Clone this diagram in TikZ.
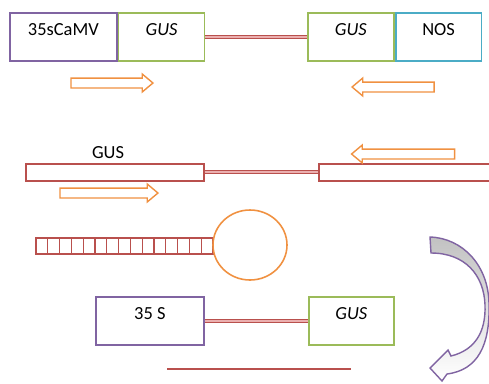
\documentclass[tikz,border=0pt]{standalone}
\usepackage{fontspec}
\setmainfont{Carlito}
\usepackage{tikz}
\usetikzlibrary{positioning}
\usetikzlibrary{shapes.arrows}
\definecolor{camvpurple}{RGB}{128,100,162}
\definecolor{gusgreen}{RGB}{155,187,89}
\definecolor{nosblue}{RGB}{75,172,198}
\definecolor{arroworange}{RGB}{240,145,65}
\definecolor{dnared}{RGB}{185,80,77}
\definecolor{dnapink}{RGB}{235,175,175}

\begin{document}
\begin{tikzpicture}[x=0.02cm,y=-0.02cm,
        every node/.style={font=\fontsize{10.5}{12}\selectfont},
        genebox/.style={draw, line width=1pt, fill=white, minimum height=0.96cm,
            inner xsep=0pt, inner ysep=0.25cm, text height=0.2cm, text depth=0.26cm,
            anchor=north west},
        strand/.style={draw=dnared, line width=0.9pt, fill=white, minimum height=0.34cm,
            inner sep=0pt, anchor=north west},
        dnalink/.style={draw=dnared, line width=0.6pt, double=dnapink, double distance=1.2pt},
        blockarrow/.style={single arrow, draw=arroworange, line width=0.8pt, fill=white,
            inner xsep=0pt, inner ysep=0.085cm, single arrow head extend=0.08cm,
            single arrow tip angle=80},
        on grid]
    \useasboundingbox (0,0) rectangle (489,383);
    \node[genebox, draw=camvpurple, minimum width=2.14cm] (camv) at (9,12) {35sCaMV};
    \node[genebox, draw=gusgreen, minimum width=1.72cm, right=0pt of camv.north east,
        anchor=north west] (gusA) {\textit{GUS}};
    \node[genebox, draw=gusgreen, minimum width=1.72cm] (gusB) at (307,12) {\textit{GUS}};
    \node[genebox, draw=nosblue, minimum width=1.72cm, right=0pt of gusB.north east,
        anchor=north west] (nos) {NOS};
    \draw[dnalink] (gusA.east) -- (gusB.west);
    \node[blockarrow, minimum height=1.64cm] (fwdA) at (109,83) {};
    \node[blockarrow, minimum height=1.64cm, shape border rotate=180] (revA) at (396,87) {};

    \node (gustag) at (108,153) {GUS};
    \node[strand, minimum width=3.56cm] (senseL) at (25,163) {};
    \node[strand, minimum width=3.6cm] (senseR) at (318,163) {};
    \draw[dnalink] (senseL.east) -- (senseR.west);
    \node[blockarrow, minimum height=1.96cm] (fwdB) at (106,193) {};
    \node[blockarrow, minimum height=2.06cm, shape border rotate=180] (revB) at (406,154) {};

    \draw[dnared, line width=0.9pt] (36,238) rectangle (213,254);
    \foreach \i in {1,...,14}
        \draw[dnared, line width=0.6pt] ({36+\i*11.8},238) -- ++(0,16);
    \draw[arroworange, line width=0.9pt] (250,245) ellipse [x radius=37, y radius=35];

    \draw[camvpurple, line width=0.8pt, top color=black!24, middle color=white, bottom color=white]
        (430,237) .. controls (462,238) and (489,265) .. (489,305)
        .. controls (490,345) and (478,370) .. (447,374)
        -- (442,381) -- (430,368) -- (448,350) -- (451,356)
        .. controls (475,350) and (486,332) .. (485,305)
        .. controls (484,275) and (465,253) .. (431,253) -- cycle;

    \node[genebox, draw=camvpurple, minimum width=2.16cm] (promoter) at (95,296) {35 S};
    \node[genebox, draw=gusgreen, minimum width=1.7cm] (gusC) at (308,296) {\textit{GUS}};
    \draw[dnalink] (promoter.east) -- (gusC.west);
    \draw[dnared, line width=1.2pt] (167,369) -- (351,369);
\end{tikzpicture}
\end{document}
